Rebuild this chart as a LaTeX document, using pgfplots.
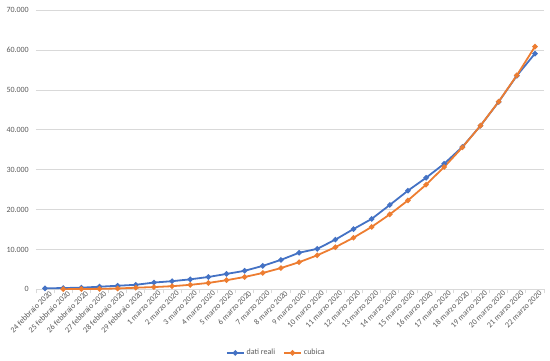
\documentclass[border=0pt]{standalone}
\usepackage{pgfplots}
\pgfplotsset{compat=1.18}
\usepackage{pgfplotstable}
\usepackage{fontspec}
\setmainfont{Carlito}
\definecolor{blueS}{HTML}{4472C4}
\definecolor{orangeS}{HTML}{ED7D31}
\definecolor{gridc}{HTML}{D9D9D9}
\definecolor{txt}{HTML}{595959}
\newcommand\f{\fontsize{8bp}{10bp}\selectfont}

\pgfplotstableread{
i reali
0 229
1 322
2 400
3 650
4 888
5 1128
6 1694
7 2036
8 2502
9 3089
10 3858
11 4636
12 5883
13 7375
14 9172
15 10149
16 12462
17 15113
18 17660
19 21157
20 24747
21 27980
22 31506
23 35713
24 41035
25 47021
26 53578
27 59138
}\reali

\pgfplotstableread{
i cubica
1 30
2 60
3 120
4 200
5 400
6 560
7 780
8 1120
9 1600
10 2280
11 3095
12 4100
13 5330
14 6800
15 8530
16 10570
17 12940
18 15660
19 18800
20 22300
21 26250
22 30690
23 35610
24 41070
25 47080
26 53660
27 60880
}\cubica

\begin{document}
\begin{tikzpicture}
\path[use as bounding box] (0,0) rectangle (550bp,361bp);
\begin{axis}[
  at={(36bp,71.7bp)}, anchor=south west,
  scale only axis, width=508bp, height=279bp,
  xmin=-0.5, xmax=27.5, ymin=0, ymax=70000,
  axis x line*=bottom, axis y line*=left,
  x axis line style={draw=gridc, line width=0.75bp, -},
  y axis line style={draw=none},
  ymajorgrids, grid style={draw=gridc, line width=0.75bp},
  ytick={0,10000,...,70000},
  scaled y ticks=false,
  /pgf/number format/.cd, fixed, 1000 sep={.}, assume math mode=true, /pgfplots/.cd,
  xtick={0,...,27},
  xticklabels={24 febbraio 2020,25 febbraio 2020,26 febbraio 2020,27 febbraio 2020,28 febbraio 2020,29 febbraio 2020,1 marzo 2020,2 marzo 2020,3 marzo 2020,4 marzo 2020,5 marzo 2020,6 marzo 2020,7 marzo 2020,8 marzo 2020,9 marzo 2020,10 marzo 2020,11 marzo 2020,12 marzo 2020,13 marzo 2020,14 marzo 2020,15 marzo 2020,16 marzo 2020,17 marzo 2020,18 marzo 2020,19 marzo 2020,20 marzo 2020,21 marzo 2020,22 marzo 2020},
  minor xtick={-0.5,0.5,...,27.5},
  tick align=outside,
  major tick length=0pt,
  minor tick length=4bp,
  minor x tick style={draw=gridc, line width=0.75bp},
  ytick style={draw=none},
  xticklabel style={font=\f, text=txt, rotate=45, anchor=east, inner sep=0pt, xshift=2bp, yshift=-6bp},
  yticklabel style={font=\f, text=txt, anchor=east, inner sep=0pt, xshift=-7bp},
  legend style={at={(0.473,-0.228)}, anchor=center, draw=none, fill=none, legend columns=2, font=\f, text=txt,
    /tikz/every even column/.append style={column sep=6bp}},
  legend cell align=left,
]
\addplot[blueS, line width=1.8bp, mark=*, mark size=1.7bp] table[x=i, y=reali] {\reali};
\addlegendentry{dati reali}
\addplot[orangeS, line width=1.8bp, mark=*, mark size=1.7bp] table[x=i, y=cubica] {\cubica};
\addlegendentry{cubica}
\end{axis}
\end{tikzpicture}
\end{document}
